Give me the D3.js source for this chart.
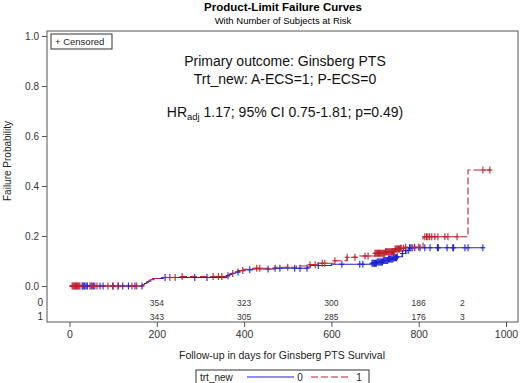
<!DOCTYPE html>
<html>
<head>
<meta charset="utf-8">
<script src="https://cdn.jsdelivr.net/npm/d3@7"></script>
<style>
  body { margin: 0; background: #fff; }
  text { font-family: "Liberation Sans", Arial, sans-serif; }
</style>
</head>
<body>
<svg id="chart"></svg>
<script>
// step curves: event time (days) and cumulative failure probability after it
const stepDays0 = [0, 168, 172, 176, 181, 186, 193, 215, 360, 366, 372, 380, 390, 402, 420, 470, 545, 552, 600, 693, 705, 718, 730, 742, 750, 762, 770, 778];
const stepFail0 = [0, 0.005, 0.010, 0.015, 0.020, 0.025, 0.030, 0.034, 0.041, 0.046, 0.051, 0.056, 0.061, 0.065, 0.068, 0.071, 0.076, 0.082, 0.087, 0.091, 0.096, 0.102, 0.108, 0.113, 0.117, 0.130, 0.142, 0.153];
const stepDays1 = [0, 168, 173, 178, 184, 190, 205, 250, 362, 368, 375, 385, 398, 420, 470, 520, 545, 569, 608, 636, 665, 700, 723, 746, 757, 769, 810, 913];
const stepFail1 = [0, 0.006, 0.012, 0.018, 0.024, 0.030, 0.034, 0.038, 0.044, 0.050, 0.056, 0.062, 0.067, 0.071, 0.075, 0.080, 0.085, 0.091, 0.101, 0.115, 0.120, 0.131, 0.137, 0.148, 0.151, 0.155, 0.197, 0.464];

// censored observation times (days)
const censDays0 = [29, 31, 33, 35, 38, 41, 47, 52, 58, 70, 77, 100, 112, 122, 135, 150, 166, 219, 287, 315, 363, 386, 413, 455, 471, 482, 516, 528, 544, 570, 624, 665, 672,
  693, 695, 697, 699, 701, 703, 705, 707, 709, 711, 713, 715, 717, 719, 721, 723, 725, 727, 729, 731, 733, 735, 737, 739, 741, 743, 745, 747, 749, 751,
  763, 771, 776, 779, 782, 785, 791, 803, 814, 826, 843, 845, 865, 878, 880, 906, 913, 947];
const censDays1 = [6, 8, 10, 12, 14, 16, 18, 20, 22, 24, 50, 55, 63, 88, 99, 111, 143, 154, 230, 242, 258, 329, 341, 349, 374, 397, 429, 436, 500, 551, 563, 579, 585, 608, 636, 654, 677, 684,
  700, 702, 704, 706, 708, 710, 712, 714, 716, 718, 720, 722, 724, 726, 728, 730, 732, 734, 736, 738, 740, 742, 744, 746, 748, 750, 752, 754, 756, 758, 760, 765, 770, 790, 800,
  814, 818, 821, 825, 830, 837, 844, 860, 867, 888, 947, 963];

// subjects at risk
const riskDays = [200, 400, 600, 800, 900];
const atRisk0 = [354, 323, 300, 186, 2];
const atRisk1 = [343, 305, 285, 176, 3];

const xTicks = [0, 200, 400, 600, 800, 1000];
const yTicks = [0, 0.2, 0.4, 0.6, 0.8, 1.0];

const width = 520, height = 383;
const frame = { left: 47, top: 31, right: 518, bottom: 322 };
const blue = "#2424d4";
const red = "#c0202e";

const svg = d3.select("#chart")
    .attr("width", width)
    .attr("height", height);

const x = d3.scaleLinear().domain([0, 1000]).range([69.5, 506]);
const y = d3.scaleLinear().domain([0, 1]).range([286, 36]);

// titles
svg.append("text")
    .attr("x", 283).attr("y", 11)
    .attr("text-anchor", "middle")
    .attr("font-size", 11.5).attr("font-weight", "bold")
    .text("Product-Limit Failure Curves");
svg.append("text")
    .attr("x", 283).attr("y", 23.5)
    .attr("text-anchor", "middle")
    .attr("font-size", 9.5)
    .text("With Number of Subjects at Risk");

// frame
svg.append("rect")
    .attr("x", frame.left).attr("y", frame.top)
    .attr("width", frame.right - frame.left)
    .attr("height", frame.bottom - frame.top)
    .attr("fill", "none")
    .attr("stroke", "#555");

// axes
const yAxis = svg.append("g")
    .attr("transform", `translate(${frame.left},0)`)
    .call(d3.axisLeft(y).tickValues(yTicks).tickFormat(d3.format(".1f")).tickSize(5).tickPadding(3));
const xAxis = svg.append("g")
    .attr("transform", `translate(0,${frame.bottom})`)
    .call(d3.axisBottom(x).tickValues(xTicks).tickFormat(d3.format("d")).tickSize(5).tickPadding(4));
[yAxis, xAxis].forEach(g => {
    g.select(".domain").remove();
    g.selectAll("line").attr("stroke", "#555");
    g.selectAll("text").attr("font-size", 10).attr("fill", "#333")
        .attr("font-family", "Liberation Sans, Arial, sans-serif");
});
xAxis.selectAll("text").attr("font-size", 10.5);

svg.append("text")
    .attr("transform", "translate(11,161) rotate(-90)")
    .attr("text-anchor", "middle")
    .attr("font-size", 10).attr("fill", "#222")
    .text("Failure Probability");
svg.append("text")
    .attr("x", 282).attr("y", 359)
    .attr("text-anchor", "middle")
    .attr("font-size", 10.5).attr("fill", "#222")
    .text("Follow-up in days for Ginsberg PTS Survival");

// annotation
const note = svg.append("g").attr("font-size", 14).attr("fill", "#111").attr("text-anchor", "middle");
note.append("text").attr("x", 285).attr("y", 66).text("Primary outcome: Ginsberg PTS");
note.append("text").attr("x", 285).attr("y", 84).text("Trt_new: A-ECS=1; P-ECS=0");
const hr = note.append("text").attr("x", 285).attr("y", 117);
hr.append("tspan").text("HR");
hr.append("tspan").attr("font-size", 9.5).attr("dy", 3).text("adj");
hr.append("tspan").attr("dy", -3).text(" 1.17; 95% CI 0.75-1.81; p=0.49)");

// censored legend
svg.append("rect")
    .attr("x", 51).attr("y", 34).attr("width", 61).attr("height", 15)
    .attr("fill", "#fff").attr("stroke", "#333");
svg.append("text")
    .attr("x", 55).attr("y", 45)
    .attr("font-size", 9.5).attr("fill", "#222")
    .text("+ Censored");

// curves
function failAt(days, fails, t) {
    const i = d3.bisectRight(days, t) - 1;
    return fails[Math.max(i, 0)];
}

function drawGroup(days, fails, cens, color, dash) {
    const endDay = d3.max(cens);
    const pts = days.map((d, i) => [d, fails[i]]);
    pts.push([endDay, fails[fails.length - 1]]);
    const line = d3.line()
        .x(d => x(d[0]))
        .y(d => y(d[1]))
        .curve(d3.curveStepAfter);
    svg.append("path")
        .datum(pts)
        .attr("d", line)
        .attr("fill", "none")
        .attr("stroke", color)
        .attr("stroke-width", 1.1)
        .attr("stroke-dasharray", dash);
    const marks = svg.append("g").attr("stroke", color).attr("stroke-width", 1.1);
    cens.forEach(c => {
        const cx = x(c), cy = y(failAt(days, fails, c));
        marks.append("line").attr("x1", cx).attr("x2", cx).attr("y1", cy - 3.5).attr("y2", cy + 3.5);
        marks.append("line").attr("x1", cx - 2.5).attr("x2", cx + 2.5).attr("y1", cy).attr("y2", cy);
    });
}

drawGroup(stepDays0, stepFail0, censDays0, blue, null);
drawGroup(stepDays1, stepFail1, censDays1, red, "7,3");

// at-risk table
const risk = svg.append("g").attr("font-size", 8.5).attr("fill", "#333");
[[atRisk0, 306, "0"], [atRisk1, 319.5, "1"]].forEach(([vals, yy, lab]) => {
    risk.append("text").attr("x", 43).attr("y", yy).attr("text-anchor", "end")
        .attr("font-size", 10).text(lab);
    risk.selectAll(null)
        .data(vals)
        .enter()
        .append("text")
        .attr("x", (d, i) => x(riskDays[i]))
        .attr("y", yy)
        .attr("text-anchor", "middle")
        .text(d => d);
});

// group legend
svg.append("rect")
    .attr("x", 196).attr("y", 370).attr("width", 173).attr("height", 16)
    .attr("fill", "#fff").attr("stroke", "#333");
svg.append("text").attr("x", 200).attr("y", 381).attr("font-size", 10).attr("fill", "#222").text("trt_new");
svg.append("line").attr("x1", 247).attr("x2", 294).attr("y1", 377).attr("y2", 377)
    .attr("stroke", blue).attr("stroke-width", 1.1);
svg.append("text").attr("x", 300).attr("y", 381).attr("font-size", 10).attr("fill", "#222").attr("text-anchor", "middle").text("0");
svg.append("line").attr("x1", 311).attr("x2", 349).attr("y1", 377).attr("y2", 377)
    .attr("stroke", red).attr("stroke-width", 1.1).attr("stroke-dasharray", "7,3");
svg.append("text").attr("x", 359).attr("y", 381).attr("font-size", 10).attr("fill", "#222").attr("text-anchor", "middle").text("1");
</script>
</body>
</html>
